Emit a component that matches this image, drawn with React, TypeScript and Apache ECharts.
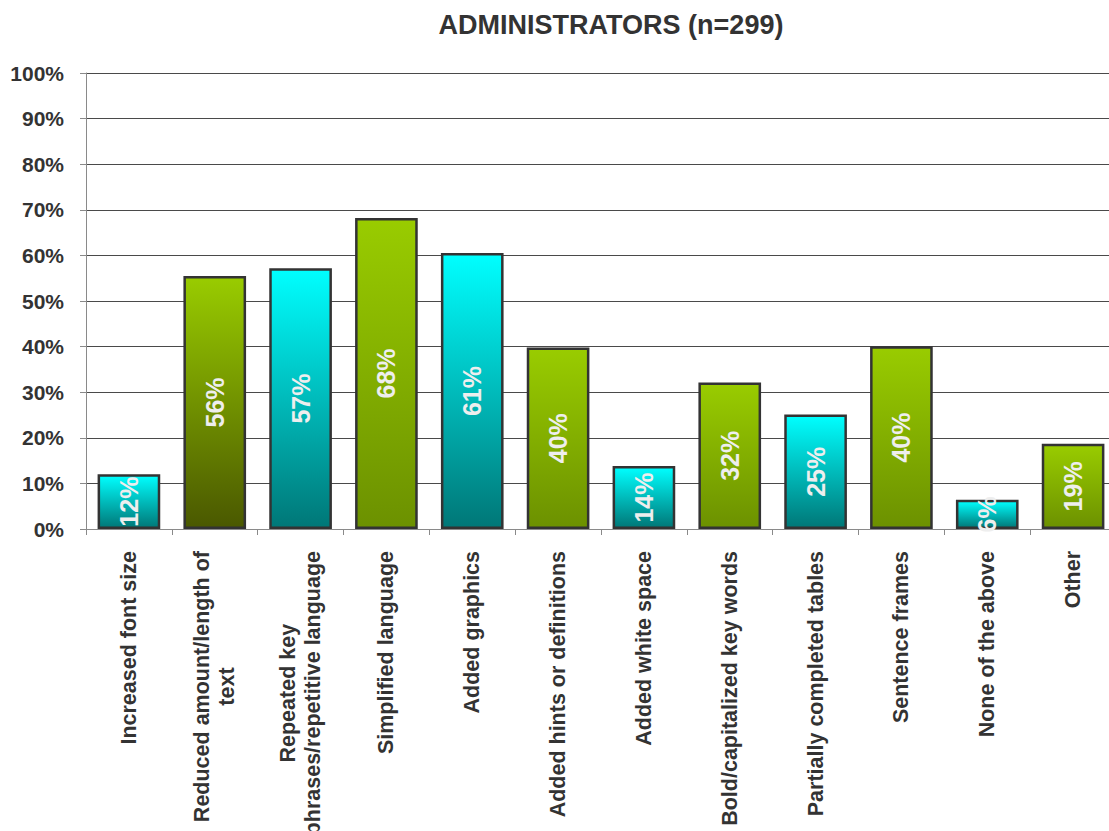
import React, { useEffect, useRef } from "react";
import * as echarts from "echarts";

const TITLE = "ADMINISTRATORS (n=299)";
const categories = [
  "Increased font size",
  "Reduced amount/length of\ntext",
  "Repeated key\nphrases/repetitive language",
  "Simplified language",
  "Added graphics",
  "Added hints or definitions",
  "Added white space",
  "Bold/capitalized key words",
  "Partially completed tables",
  "Sentence frames",
  "None of the above",
  "Other",
];
const values = [12.0, 55.5, 57.2, 68.2, 60.5, 39.8, 13.8, 32.1, 25.1, 40.1, 6.4, 18.7];
const kinds = ["cyan", "greenDark", "cyan", "green", "cyan", "green", "cyan", "green", "cyan", "green", "cyan", "green"];
const yTicks = [0, 10, 20, 30, 40, 50, 60, 70, 80, 90, 100];

const gradients: Record<string, [string, string]> = {
  cyan: ["#00FFFF", "#007777"],
  green: ["#99CC00", "#6C9100"],
  greenDark: ["#99CC00", "#4A5800"],
};

export default function App() {
  const ref = useRef<HTMLDivElement>(null);
  useEffect(() => {
    if (!ref.current) return;
    const chart = echarts.init(ref.current, undefined, { renderer: "svg" });
    const font = "'Liberation Sans', Arial, sans-serif";
    chart.setOption({
      animation: false,
      backgroundColor: "#ffffff",
      title: {
        text: TITLE,
        left: 606,
        top: 6,
        textAlign: "center",
        textStyle: { fontFamily: font, fontSize: 27, fontWeight: "bold", color: "#333333" },
      },
      grid: {
        left: 86,
        top: 73,
        width: 1030,
        height: 456,
        containLabel: false,
        outerBoundsMode: "none",
      },
      xAxis: {
        type: "category",
        data: categories,
        boundaryGap: true,
        axisLine: { show: true, lineStyle: { color: "#8a8a8a", width: 1 } },
        axisTick: { show: true, length: 6, lineStyle: { color: "#8a8a8a" } },
        axisLabel: {
          interval: 0,
          rotate: 90,
          margin: 22,
          fontFamily: font,
          fontSize: 21.5,
          fontWeight: "bold",
          color: "#333333",
          lineHeight: 25,
          formatter: (v: string) =>
            v
              .split("\n")
              .map((l) => `{c|${l}}`)
              .join("\n"),
          rich: {
            c: {
              align: "center",
              fontFamily: font,
              fontSize: 21.5,
              fontWeight: "bold",
              color: "#333333",
              lineHeight: 25,
            },
          },
        },
      },
      yAxis: {
        type: "value",
        min: 0,
        max: 100,
        interval: 10,
        axisLine: { show: true, lineStyle: { color: "#8a8a8a", width: 1 } },
        axisTick: { show: true, length: 6, lineStyle: { color: "#8a8a8a" } },
        axisLabel: {
          margin: 22,
          fontFamily: font,
          fontSize: 21,
          fontWeight: "bold",
          color: "#333333",
          formatter: (v: number) => (yTicks.includes(v) ? `${v}%` : ""),
        },
        splitLine: { show: true, lineStyle: { color: "#4a4a4a", width: 1 } },
      },
      series: [
        {
          type: "bar",
          barCategoryGap: "27%",
          data: values.map((v, i) => {
            const g = gradients[kinds[i]];
            return {
              value: v,
              itemStyle: {
                color: new echarts.graphic.LinearGradient(0, 0, 0, 1, [
                  { offset: 0, color: g[0] },
                  { offset: 1, color: g[1] },
                ]),
                borderColor: "#333333",
                borderWidth: 2.5,
              },
            };
          }),
          label: {
            show: true,
            position: "inside",
            rotate: 90,
            fontFamily: font,
            fontSize: 25,
            fontWeight: "bold",
            color: "#eeeeee",
            formatter: (p: any) => `${Math.round(p.value)}%`,
          },
        },
      ],
    });
    return () => chart.dispose();
  }, []);
  return (
    <div
      ref={ref}
      style={{ position: "fixed", left: 0, top: 0, width: 1109, height: 831, background: "#fff" }}
    />
  );
}
